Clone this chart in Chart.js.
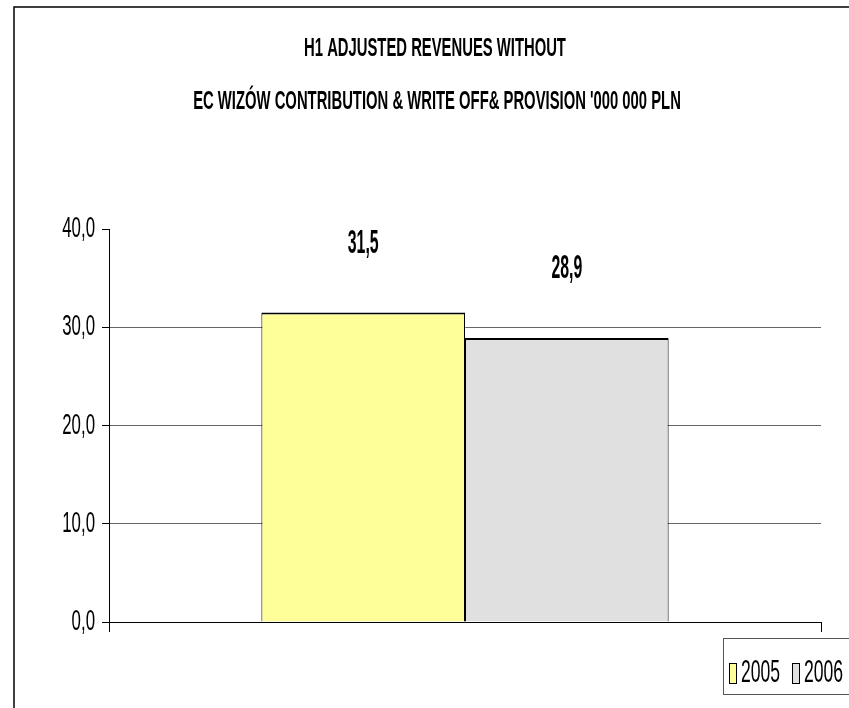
<!DOCTYPE html>
<html>
<head>
<meta charset="utf-8">
<script src="https://cdn.jsdelivr.net/npm/chart.js@4"></script>
<style>
  html, body { margin: 0; padding: 0; background: #fff; }
  canvas { display: block; }
</style>
</head>
<body>
<canvas id="revChart" width="849" height="708"></canvas>
<script>
// chart data
const categories = ['H1'];
const seriesNames = ['2005', '2006'];
const series2005 = [31.5];
const series2006 = [28.9];
const seriesColors = ['#FFFF99', '#E0E0E0'];
const yTickValues = [0, 10, 20, 30, 40];
const titleLines = [
    'H1 ADJUSTED REVENUES WITHOUT',
    "EC WIZÓW CONTRIBUTION & WRITE OFF& PROVISION '000 000 PLN"
];

const FONT = '"Liberation Sans", Arial, sans-serif';

// polish style decimals: 31,5
function fmt(v) {
    return v.toFixed(1).replace('.', ',');
}

// draw text squeezed horizontally (condensed look)
function narrowText(ctx, text, x, y, font, sx, align) {
    ctx.save();
    ctx.font = font;
    ctx.fillStyle = '#000';
    ctx.textAlign = align;
    ctx.textBaseline = 'middle';
    ctx.translate(x, y);
    ctx.scale(sx, 1);
    ctx.fillText(text, 0, 0);
    ctx.restore();
}

// frame, title, tick labels, value labels and legend
const decorations = {
    id: 'decorations',
    afterDraw: function(chart) {
        const ctx = chart.ctx;
        const yScale = chart.scales.y;

        // outer frame (top + left edge)
        ctx.save();
        ctx.strokeStyle = '#000';
        ctx.lineWidth = 1.5;
        ctx.beginPath();
        ctx.moveTo(14, chart.height);
        ctx.lineTo(14, 7);
        ctx.lineTo(chart.width, 7);
        ctx.stroke();
        ctx.restore();

        // title
        narrowText(ctx, titleLines[0], 435, 49, 'bold 26px ' + FONT, 0.57, 'center');
        narrowText(ctx, titleLines[1], 437, 102, 'bold 26px ' + FONT, 0.57, 'center');

        // y tick labels
        yTickValues.forEach(function(v) {
            narrowText(ctx, fmt(v), 95, yScale.getPixelForValue(v), '29px ' + FONT, 0.58, 'right');
        });

        // value labels above the bars
        chart.data.datasets.forEach(function(ds, i) {
            const bar = chart.getDatasetMeta(i).data[0];
            narrowText(ctx, fmt(ds.data[0]), bar.x, bar.y - 69, 'bold 33px ' + FONT, 0.48, 'center');
        });

        // legend
        ctx.save();
        ctx.strokeStyle = '#555';
        ctx.lineWidth = 1;
        ctx.strokeRect(723.5, 638.5, 140, 56);
        ctx.restore();
        const itemX = [729, 792];
        chart.data.datasets.forEach(function(ds, i) {
            ctx.save();
            ctx.fillStyle = ds.backgroundColor;
            ctx.strokeStyle = '#000';
            ctx.lineWidth = 1;
            ctx.fillRect(itemX[i], 663, 7, 20);
            ctx.strokeRect(itemX[i] + 0.5, 663.5, 7, 20);
            ctx.restore();
            narrowText(ctx, ds.label, itemX[i] + 12, 673, '32px ' + FONT, 0.55, 'left');
        });
    }
};

new Chart(document.getElementById('revChart'), {
    type: 'bar',
    plugins: [decorations],
    data: {
        labels: categories,
        datasets: [{
            label: seriesNames[0],
            data: series2005,
            backgroundColor: seriesColors[0],
            borderColor: '#000',
            borderWidth: { top: 2, left: 1, right: 1, bottom: 0 }
        }, {
            label: seriesNames[1],
            data: series2006,
            backgroundColor: seriesColors[1],
            borderColor: '#000',
            borderWidth: { top: 2, left: 1, right: 1, bottom: 0 }
        }]
    },
    options: {
        responsive: false,
        animation: false,
        devicePixelRatio: 1,
        categoryPercentage: 0.572,
        barPercentage: 1.0,
        layout: {
            padding: { left: 102, right: 28, top: 229, bottom: 76 }
        },
        plugins: {
            legend: { display: false },
            tooltip: { enabled: false }
        },
        scales: {
            x: {
                grid: {
                    drawOnChartArea: false,
                    drawTicks: true,
                    tickLength: 10,
                    color: '#000'
                },
                border: { color: '#000', width: 1 },
                ticks: { display: false },
                afterFit: function(scale) { scale.height = 10; }
            },
            y: {
                min: 0,
                max: 40,
                ticks: { display: false, stepSize: 10 },
                grid: {
                    // no line at the top value, grey lines elsewhere
                    color: function(c) {
                        return c.tick && c.tick.value === 40 ? 'rgba(0,0,0,0)' : '#666';
                    },
                    tickColor: '#000',
                    tickLength: 7
                },
                border: { color: '#000', width: 1 },
                afterFit: function(scale) { scale.width = 7; }
            }
        }
    }
});
</script>
</body>
</html>
